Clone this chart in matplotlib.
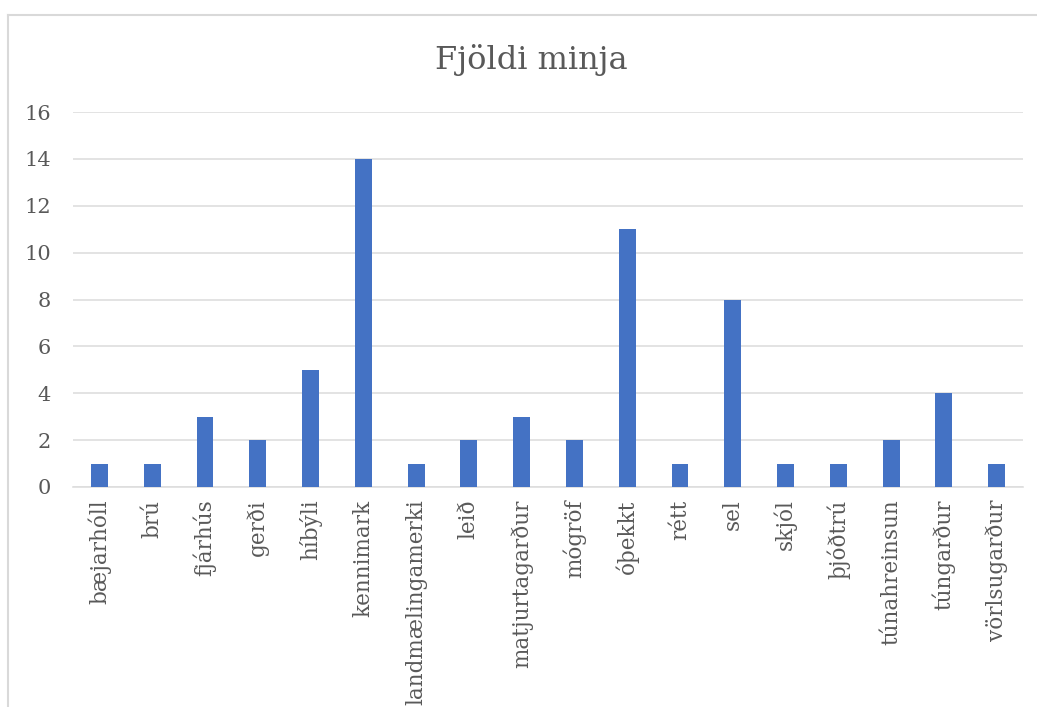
import matplotlib.pyplot as plt
from matplotlib.lines import Line2D

categories = ["bæjarhóll", "brú", "fjárhús", "gerði", "híbýli", "kennimark",
              "landmælingamerki", "leið", "matjurtagarður", "mógröf", "óþekkt",
              "rétt", "sel", "skjól", "þjóðtrú", "túnahreinsun", "túngarður",
              "vörlsugarður"]
counts = [1, 1, 3, 2, 5, 14, 1, 2, 3, 2, 11, 1, 8, 1, 1, 2, 4, 1]
yticks = [0, 2, 4, 6, 8, 10, 12, 14, 16]

plt.rcParams['font.family'] = ['DejaVu Serif']
text_col = '#595959'

fig = plt.figure(figsize=(10.37, 7.07), dpi=100)
ax = fig.add_axes([73 / 1037, 1 - 487 / 707, 950 / 1037, 375 / 707])

x = list(range(len(categories)))
ax.bar(x, counts, width=0.32, color='#4472c4', zorder=3)

ax.set_xlim(-0.5, len(categories) - 0.5)
ax.set_ylim(0, 16)
ax.set_yticks(yticks)
ax.set_xticks(x)
ax.set_xticklabels(categories, rotation=90, fontsize=15.5, color=text_col)
ax.tick_params(axis='x', length=0, pad=9)
ax.tick_params(axis='y', length=0, pad=16, labelsize=15, labelcolor=text_col)
ax.grid(axis='y', color='#dedede', linewidth=1.2, zorder=0)
for s in ['top', 'right', 'left']:
    ax.spines[s].set_visible(False)
ax.spines['bottom'].set_color('#dedede')
ax.spines['bottom'].set_linewidth(1.2)

fig.text(531 / 1037, 1 - 60 / 707, "Fjöldi minja", ha='center', va='center',
         fontsize=23, color=text_col)

# chart frame (top and left edges)
fx = 8 / 1037
fy = 1 - 15 / 707
fig.lines.append(Line2D([fx, 1.0], [fy, fy], transform=fig.transFigure,
                        color='#d9d9d9', linewidth=1.5))
fig.lines.append(Line2D([fx, fx], [0, fy], transform=fig.transFigure,
                        color='#d9d9d9', linewidth=1.5))

plt.savefig('out.png', dpi=100)
